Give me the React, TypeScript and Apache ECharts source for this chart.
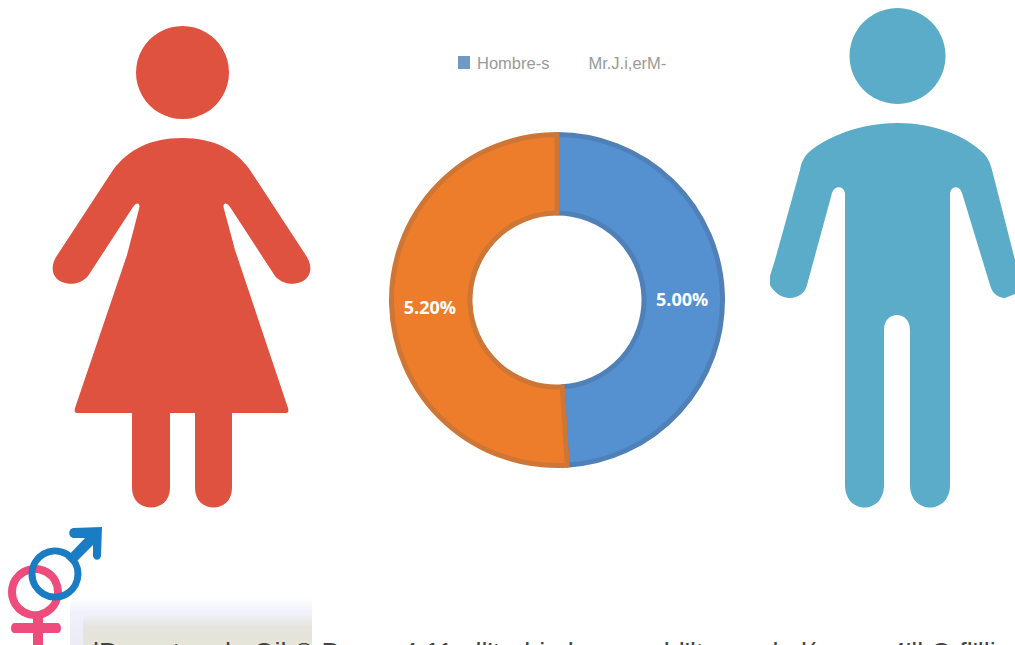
import React, { useEffect, useRef } from "react";
import * as echarts from "echarts";

const categories = ["Hombre-s", "Mr.J.i,erM-"];
const values = [5.0, 5.2];
const sliceColors = ["#5591D0", "#ED7D2B"];
const sliceBorders = ["#4F80B8", "#CE7635"];
const legendMarkers = ["#6E9AC4", "#FFFFFF"];
const labelOffsets = [[-4, 3], [2, 3]];
const footerText = "lDeportes de Qil © Depor 4.11 all'tadrio lo          ld'lt        de l(          4'll Q fl'lli";

const WOMAN_BODY =
  "M182 138 C150 138 128 150 113 170 L58 254 C49 266 52 278 62 282 C72 286 82 283 88 276 L133 207 C136 202 141 202 139 209 L127 255 L75 408 C74 412 75 413 78 413 L132 413 L132 488 C132 514 170 514 170 488 L170 413 L195 413 L195 488 C195 514 232 514 232 488 L232 413 L285 413 C288 413 289 412 288 408 L235 250 L224 209 C222 202 227 202 230 207 L275 276 C281 283 291 286 301 282 C311 278 314 266 305 254 L250 170 C236 150 214 138 182 138 Z";
const MAN_BODY =
  "M897 123 C860 123 826 137 808 153 C803 158 801 164 800 170 L775 260 L770 276 L770 285 C775 294 783 298 790 298 C798 298 805 293 807 285 L832 193 C834 186 843 185 845 193 L845 485 C845 515 884 515 884 485 L884 330 C884 310 910 310 910 330 L910 485 C910 515 950 515 950 485 L950 193 C952 185 960 186 962 193 L990 285 C992 293 998 298 1005 298 L1015 294 L1015 260 L992 170 C990 162 987 156 982 152 C966 136 934 123 897 123 Z";
const MALE_ARROW = "M73 528 L102 527 L101 556 C100 561 94 561 93 556 L93 545 L73 565 L66 558 L85 538 L73 538 C68 537 68 529 73 528 Z";
const FEMALE_CROSS = "M33 617 L43 617 L43 623 L58 623 C62 624 62 633 58 633 L43 633 L43 645 L33 645 L33 633 L14 633 C10 633 10 624 14 623 L33 623 Z";

echarts.graphic.registerShape("womanBody", echarts.graphic.extendPath(WOMAN_BODY, {}));
echarts.graphic.registerShape("manBody", echarts.graphic.extendPath(MAN_BODY, {}));
echarts.graphic.registerShape("maleArrow", echarts.graphic.extendPath(MALE_ARROW, {}));
echarts.graphic.registerShape("femaleCross", echarts.graphic.extendPath(FEMALE_CROSS, {}));

export default function App() {
  const ref = useRef<HTMLDivElement>(null);
  useEffect(() => {
    document.body.style.margin = "0";
    const chart = echarts.init(ref.current!, null, { renderer: "svg" });
    chart.setOption({
      animation: false,
      backgroundColor: "#FFFFFF",
      legend: {
        left: 453,
        top: 49,
        itemWidth: 12,
        itemHeight: 13,
        itemGap: 20,
        icon: "rect",
        selectedMode: false,
        itemStyle: { borderWidth: 0 },
        textStyle: { color: "#999999", fontFamily: "Liberation Sans", fontSize: 16.5, padding: [0, 0, 0, 2] },
        data: categories.map((name, i) => ({ name, itemStyle: { color: legendMarkers[i], borderWidth: 0 } })),
      },
      series: [
        {
          type: "pie",
          center: [557, 300],
          radius: [87, 165.5],
          startAngle: 90,
          silent: true,
          label: {
            show: true,
            position: "inside",
            color: "#FFFFFF",
            fontFamily: "Open Sans",
            fontWeight: "bold",
            fontSize: 18,
            formatter: (p: any) => `${Number(p.value).toFixed(2)}%`,
          },
          labelLine: { show: false },
          data: categories.map((name, i) => ({
            name,
            value: values[i],
            label: { offset: labelOffsets[i] },
            itemStyle: { color: sliceColors[i], borderColor: sliceBorders[i], borderWidth: 5 },
          })),
        },
      ],
      graphic: [
        {
          type: "rect",
          z: 0,
          shape: { x: 70, y: 598, width: 242, height: 47 },
          style: {
            fill: new echarts.graphic.LinearGradient(0, 0, 0, 1, [
              { offset: 0, color: "#FFFFFF" },
              { offset: 0.3, color: "#F0F1FC" },
              { offset: 1, color: "#ECEBF6" },
            ]),
          },
        },
        {
          type: "rect",
          z: 0,
          shape: { x: 83, y: 614, width: 229, height: 31 },
          style: {
            fill: new echarts.graphic.LinearGradient(0, 0, 0, 1, [
              { offset: 0, color: "#F0F1FC" },
              { offset: 0.4, color: "#E6E4DE" },
              { offset: 1, color: "#E5E5D9" },
            ]),
          },
        },
        { type: "circle", z: 1, shape: { cx: 182.5, cy: 72.5, r: 46.5 }, style: { fill: "#DF5240" } },
        { type: "womanBody", z: 1, style: { fill: "#DF5240" } },
        { type: "circle", z: 1, shape: { cx: 897.5, cy: 56, r: 48 }, style: { fill: "#5AACC8" } },
        { type: "manBody", z: 1, style: { fill: "#5AACC8" } },
        { type: "circle", z: 2, shape: { cx: 35, cy: 592, r: 23 }, style: { fill: "none", stroke: "#EE4C7C", lineWidth: 8 } },
        { type: "femaleCross", z: 2, style: { fill: "#EE4C7C" } },
        { type: "circle", z: 3, shape: { cx: 55, cy: 574, r: 23 }, style: { fill: "none", stroke: "#1A7DC4", lineWidth: 7 } },
        { type: "maleArrow", z: 3, style: { fill: "#1A7DC4" } },
        {
          type: "text",
          z: 4,
          x: 93,
          y: 639,
          style: { text: footerText, fill: "#444444", font: "27px 'Liberation Sans'", textAlign: "left", textVerticalAlign: "top" },
        },
      ],
    });
    return () => chart.dispose();
  }, []);
  return <div ref={ref} style={{ width: 1015, height: 645, overflow: "hidden" }} />;
}
